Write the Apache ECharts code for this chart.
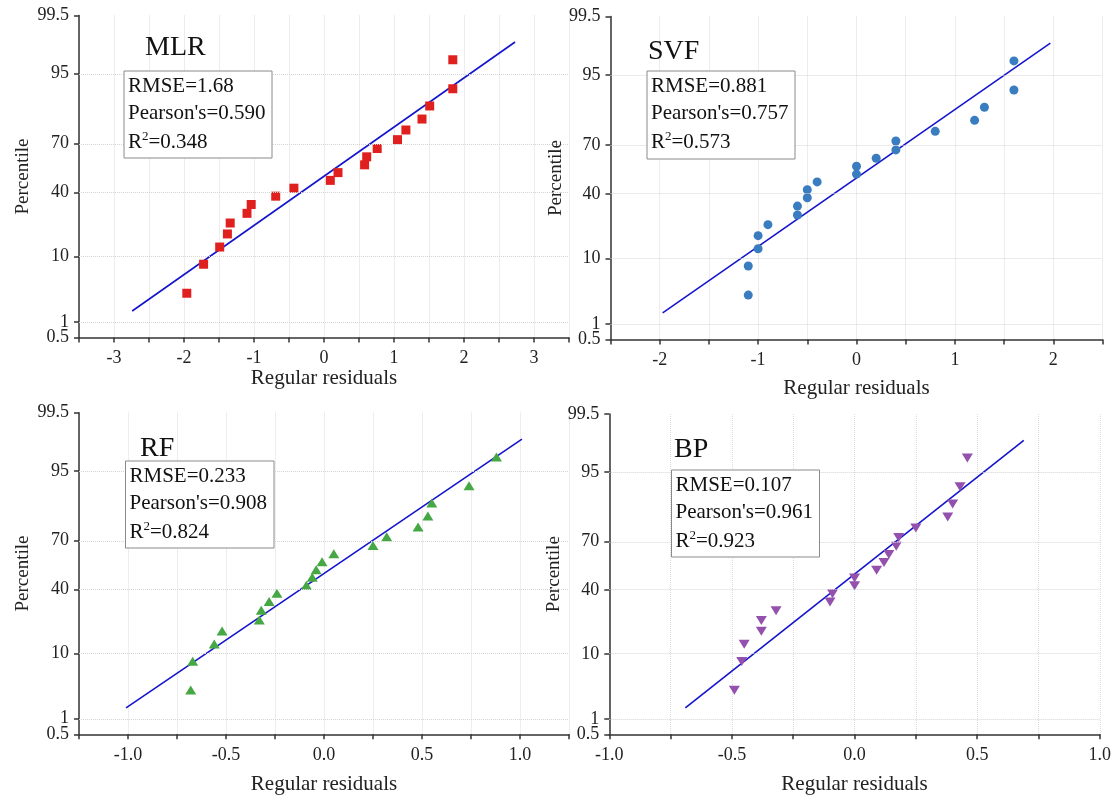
<!DOCTYPE html>
<html><head><meta charset="utf-8">
<script src="https://cdn.jsdelivr.net/npm/echarts@6/dist/echarts.min.js"></script>
<style>html,body{margin:0;padding:0;background:#fff}#c{width:1116px;height:800px}</style>
</head><body><div id="c"></div>
<script>
// ---------------- data ----------------
const modelNames = ['MLR', 'SVF', 'RF', 'BP'];
const rmseVals = ['1.68', '0.881', '0.233', '0.107'];
const pearsonVals = ['0.590', '0.757', '0.908', '0.961'];
const r2Vals = ['0.348', '0.573', '0.824', '0.923'];

// plotting positions (percentile) of the 20 sorted residuals
const percentiles = [3.09, 8.02, 12.96, 17.90, 22.84, 27.78, 32.72, 37.65, 42.59, 47.53,
                     52.47, 57.41, 62.35, 67.28, 72.22, 77.16, 82.10, 87.04, 91.98, 96.91];

const mlrResid = [-1.96, -1.72, -1.49, -1.38, -1.34, -1.10, -1.04, -0.69, -0.43, 0.09,
                  0.20, 0.58, 0.61, 0.76, 1.05, 1.17, 1.40, 1.51, 1.84, 1.84];
const svfResid = [-1.1, -1.1, -1.0, -1.0, -0.9, -0.6, -0.6, -0.5, -0.5, -0.4,
                  0.0, 0.0, 0.2, 0.4, 0.4, 0.8, 1.2, 1.3, 1.6, 1.6];
const rfResid = [-0.68, -0.67, -0.56, -0.52, -0.33, -0.32, -0.28, -0.24, -0.09, -0.06,
                 -0.04, -0.01, 0.05, 0.25, 0.32, 0.48, 0.53, 0.55, 0.74, 0.88];
const bpResid = [-0.49, -0.46, -0.45, -0.38, -0.38, -0.32, -0.10, -0.09, 0.00, 0.00,
                 0.09, 0.12, 0.14, 0.17, 0.18, 0.25, 0.38, 0.40, 0.43, 0.46];

// reference (fit) lines: end points
const fitLinePct = [1.57, 98.43];
const mlrFitX = [-2.74, 2.73];
const svfFitX = [-1.97, 1.97];
const rfFitX = [-1.01, 1.01];
const bpFitX = [-0.69, 0.69];

// tick labels
const yTickPct = [0.5, 1, 10, 40, 70, 95, 99.5];
const yTickLabels = ['0.5', '1', '10', '40', '70', '95', '99.5'];
const yGridPct = [1, 10, 40, 70, 95];
const mlrXTicks = [-3, -2, -1, 0, 1, 2, 3];
const svfXTicks = [-2, -1, 0, 1, 2];
const rfXTicks = [-1.0, -0.5, 0.0, 0.5, 1.0];
const bpXTicks = [-1.0, -0.5, 0.0, 0.5, 1.0];

// ---------------- normal probability scale ----------------
function probit(p) {
  const a = [-3.969683028665376e+01, 2.209460984245205e+02, -2.759285104469687e+02, 1.383577518672690e+02, -3.066479806614716e+01, 2.506628277459239e+00];
  const b = [-5.447609879822406e+01, 1.615858368580409e+02, -1.556989798598866e+02, 6.680131188771972e+01, -1.328068155288572e+01];
  const c = [-7.784894002430293e-03, -3.223964580411365e-01, -2.400758277161838e+00, -2.549732539343734e+00, 4.374664141464968e+00, 2.938163982698783e+00];
  const d = [7.784695709041462e-03, 3.224671290700398e-01, 2.445134137142996e+00, 3.754408661907416e+00];
  const plow = 0.02425, phigh = 1 - plow;
  let q, r;
  if (p < plow) {
    q = Math.sqrt(-2 * Math.log(p));
    return (((((c[0]*q+c[1])*q+c[2])*q+c[3])*q+c[4])*q+c[5]) / ((((d[0]*q+d[1])*q+d[2])*q+d[3])*q+1);
  } else if (p <= phigh) {
    q = p - 0.5; r = q * q;
    return (((((a[0]*r+a[1])*r+a[2])*r+a[3])*r+a[4])*r+a[5])*q / (((((b[0]*r+b[1])*r+b[2])*r+b[3])*r+b[4])*r+1);
  } else {
    q = Math.sqrt(-2 * Math.log(1 - p));
    return -(((((c[0]*q+c[1])*q+c[2])*q+c[3])*q+c[4])*q+c[5]) / ((((d[0]*q+d[1])*q+d[2])*q+d[3])*q+1);
  }
}
const zOf = pct => probit(pct / 100);
const yTickZ = yTickPct.map(zOf);
const zMin = yTickZ[0], zMax = yTickZ[yTickZ.length - 1];
const labelFor = v => { let bi = 0, bd = 1e9; yTickZ.forEach((z, i) => { const dd = Math.abs(z - v); if (dd < bd) { bd = dd; bi = i; } }); return yTickLabels[bi]; };
// the "1" label sits very close to "0.5": it is drawn by a companion axis so both stay visible
const yMainZ = yTickZ.filter((z, i) => yTickLabels[i] !== '1');
const yOneZ = yTickZ.filter((z, i) => yTickLabels[i] === '1');

// ---------------- layout / style ----------------
const FONT = '"Liberation Serif", "Times New Roman", serif';
const panels = [
  { resid: mlrResid, fitX: mlrFitX, xTicks: mlrXTicks, xMin: -3.5, xMax: 3.5, xStep: 0.5, dec: 0,
    color: '#e0201e', symbol: 'rect', size: 9, rot: 0,
    grid: { left: 79, top: 15.5, width: 490, height: 322 }, gapX: 30, gapY: 46,
    title: [145, 48], box: [124, 71, 148, 87] },
  { resid: svfResid, fitX: svfFitX, xTicks: svfXTicks, xMin: -2.5, xMax: 2.5, xStep: 0.5, dec: 0,
    color: '#3a7cc0', symbol: 'circle', size: 9, rot: 0,
    grid: { left: 610.5, top: 16.5, width: 492, height: 323 }, gapX: 38, gapY: 36,
    title: [648, 52], box: [647, 71, 148, 88] },
  { resid: rfResid, fitX: rfFitX, xTicks: rfXTicks, xMin: -1.25, xMax: 1.25, xStep: 0.25, dec: 1,
    color: '#45a845', symbol: 'triangle', size: [11, 9], rot: 0,
    grid: { left: 79, top: 412.7, width: 490, height: 321.6 }, gapX: 40, gapY: 46,
    title: [140, 449], box: [125.5, 461, 148.5, 87] },
  { resid: bpResid, fitX: bpFitX, xTicks: bpXTicks, xMin: -1, xMax: 1, xStep: 0.25, dec: 1,
    color: '#9350ad', symbol: 'triangle', size: [11, 9], rot: 180,
    grid: { left: 609.3, top: 414, width: 490.5, height: 320.3 }, gapX: 40, gapY: 35,
    title: [674, 450], box: [671.5, 470, 148, 87] }
];

const grids = [], xAxes = [], yAxes = [], yAxesExtra = [], series = [], graphics = [];
panels.forEach((p, k) => {
  grids.push(Object.assign({ containLabel: false }, p.grid));
  xAxes.push({
    type: 'value', gridIndex: k, min: p.xMin, max: p.xMax, interval: p.xStep,
    name: 'Regular residuals', nameLocation: 'middle', nameGap: p.gapX,
    nameTextStyle: { fontFamily: FONT, fontSize: 21, color: '#222' },
    axisLine: { show: true, onZero: false, lineStyle: { color: '#333', width: 1.5 } },
    axisTick: { show: true, inside: false, length: 5, lineStyle: { color: '#333', width: 1.5 } },
    axisLabel: { customValues: p.xTicks, margin: 12, fontFamily: FONT, fontSize: 18, color: '#222',
      hideOverlap: false, formatter: v => Number(v).toFixed(p.dec) },
    splitLine: { show: true, lineStyle: { color: '#dcdcdc', type: 'dotted', width: 1 } }
  });
  yAxes.push({
    type: 'value', gridIndex: k, min: zMin, max: zMax, position: 'left',
    name: 'Percentile', nameLocation: 'middle', nameGap: p.gapY,
    nameTextStyle: { fontFamily: FONT, fontSize: 19, color: '#222' },
    axisLine: { show: true, onZero: false, lineStyle: { color: '#333', width: 1.5 } },
    axisTick: { show: true, inside: false, length: 5, customValues: yTickZ, lineStyle: { color: '#333', width: 1.5 } },
    axisLabel: { customValues: yMainZ, margin: 10, fontFamily: FONT, fontSize: 18, color: '#222',
      showMinLabel: true, showMaxLabel: true, hideOverlap: false, formatter: labelFor },
    splitLine: { show: false }
  });
  yAxesExtra.push({
    type: 'value', gridIndex: k, min: zMin, max: zMax, position: 'left', offset: 0,
    axisLine: { show: false, onZero: false }, axisTick: { show: false }, splitLine: { show: false },
    axisLabel: { customValues: yOneZ, margin: 10, fontFamily: FONT, fontSize: 18, color: '#222',
      showMinLabel: true, showMaxLabel: true, hideOverlap: false, formatter: labelFor }
  });
  // horizontal grid lines at probability ticks
  series.push({
    type: 'line', xAxisIndex: k, yAxisIndex: k, data: [], z: 1, silent: true,
    markLine: { silent: true, symbol: ['none', 'none'], label: { show: false }, animation: false,
      lineStyle: { color: '#d4d4d4', type: 'dotted', width: 1 },
      data: yGridPct.map(g => ({ yAxis: zOf(g) })) }
  });
  // fitted reference line
  series.push({
    type: 'line', xAxisIndex: k, yAxisIndex: k, symbol: 'none', z: 2, silent: true,
    lineStyle: { color: '#1414cc', width: 1.6 },
    data: p.fitX.map((x, i) => [x, zOf(fitLinePct[i])])
  });
  // residual points
  series.push({
    type: 'scatter', xAxisIndex: k, yAxisIndex: k, z: 3,
    symbol: p.symbol, symbolSize: p.size, symbolRotate: p.rot,
    itemStyle: { color: p.color, opacity: 1 },
    data: p.resid.map((x, i) => [x, zOf(percentiles[i])])
  });
  // model title
  graphics.push({ type: 'text', x: p.title[0], y: p.title[1], z: 100,
    style: { text: modelNames[k], fontFamily: FONT, fontSize: 28, fill: '#111', align: 'left', verticalAlign: 'middle' } });
  // stats box
  const [bx, by, bw, bh] = p.box;
  graphics.push({ type: 'rect', z: 100, shape: { x: bx, y: by, width: bw, height: bh },
    style: { fill: '#fff', stroke: '#8a8a8a', lineWidth: 1 } });
  const lines = ['RMSE=' + rmseVals[k], "Pearson's=" + pearsonVals[k]];
  lines.forEach((t, i) => graphics.push({ type: 'text', z: 101, x: bx + 4, y: by + 15 + i * 27.5,
    style: { text: t, fontFamily: FONT, fontSize: 21, fill: '#111', align: 'left', verticalAlign: 'middle' } }));
  graphics.push({ type: 'text', z: 101, x: bx + 4, y: by + 71,
    style: { text: 'R{sup|2}=' + r2Vals[k], fontFamily: FONT, fontSize: 21, fill: '#111', align: 'left', verticalAlign: 'middle',
      lineHeight: 24,
      rich: { sup: { fontFamily: FONT, fontSize: 13, fill: '#111', verticalAlign: 'top', lineHeight: 24 } } } });
});

const chart = echarts.init(document.getElementById('c'), null, { renderer: 'canvas' });
chart.setOption({
  animation: false,
  backgroundColor: '#fff',
  grid: grids, xAxis: xAxes, yAxis: yAxes.concat(yAxesExtra), series: series, graphic: graphics
});
</script></body></html>
